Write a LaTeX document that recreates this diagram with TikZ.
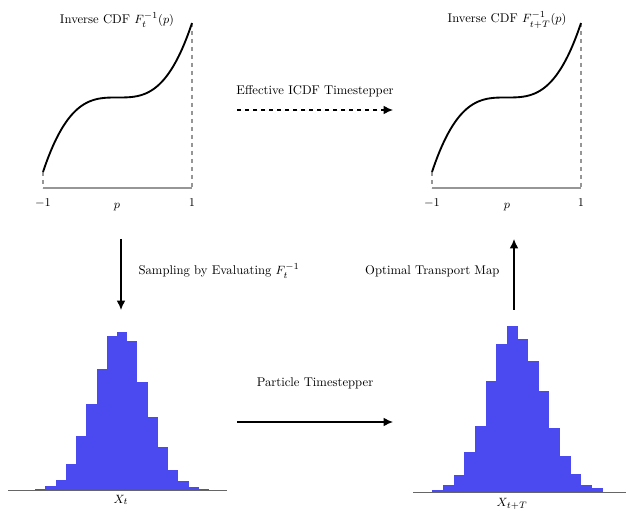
\documentclass[tikz,border=0pt]{standalone}
\usetikzlibrary{arrows.meta}
\definecolor{barblue}{RGB}{74,74,240}
\definecolor{axisgray}{RGB}{150,150,150}
\begin{document}
\begin{tikzpicture}[x=0.75pt,y=-0.75pt,
  txt/.style={font=\fontsize{9.5}{11}\selectfont, inner sep=1pt},
  curve/.style={line width=1.4pt, black},
  axisline/.style={draw=axisgray, line width=1.1pt},
  guide/.style={draw=axisgray, dashed, line width=0.8pt},
  flow/.style={line width=1pt, -{Latex[length=7pt,width=6.5pt]}},
  bar/.style={fill=barblue, draw=none},
  base/.style={draw=black!60, line width=0.6pt}]
\useasboundingbox (0,0) rectangle (634,523);

% ---- top-left inverse CDF ----
\draw[guide] (43,172) -- (43,188);
\draw[guide] (192,23) -- (192,188);
\draw[axisline] (43,188) -- (192,188);
\draw[curve] plot[domain=-1:1, samples=80, smooth] ({117.5+74.5*\x}, {97.5-74.5*\x*\x*\x});
\node[txt] (tl1) at (43,203) {$-1$};
\node[txt] (tlp) at (117,207) {$p$};
\node[txt] (tl2) at (192,203) {$1$};
\node[txt] (tltitle) at (117,20) {Inverse CDF $F_t^{-1}(p)$};

% ---- top-right inverse CDF ----
\draw[guide] (432,172) -- (432,188);
\draw[guide] (581,23) -- (581,188);
\draw[axisline] (432,188) -- (581,188);
\draw[curve] plot[domain=-1:1, samples=80, smooth] ({506.5+74.5*\x}, {97.5-74.5*\x*\x*\x});
\node[txt] (tr1) at (432,203) {$-1$};
\node[txt] (trp) at (507,207) {$p$};
\node[txt] (tr2) at (581,203) {$1$};
\node[txt] (trtitle) at (507,20) {Inverse CDF $F_{t+T}^{-1}(p)$};

% ---- bottom-left histogram ----
\foreach \h [count=\i from 0] in {0.3,1,4,10,25.7,54,86,121,154,158,149,108,73,42.7,19.7,8.7,3,1}{
  \fill[bar] ({25+10.22*\i},490) rectangle ({25+10.22*(\i+1)},{490-\h});
}
\draw[base] (8,490) -- (227,490);
\node[txt] (xt) at (121,500) {$X_t$};

% ---- bottom-right histogram ----
\foreach \h [count=\i from 0] in {1.7,7.3,17.3,40,66.3,111,148,166.3,153.3,131.3,101.3,64.3,36.3,18.3,7.3,4}{
  \fill[bar] ({432.3+10.65*\i},492) rectangle ({432.3+10.65*(\i+1)},{492-\h});
}
\draw[base] (413,492) -- (626,492);
\node[txt] (xtt) at (512,504) {$X_{t+T}$};

% ---- connectors ----
\coordinate (e1) at (237,110);
\coordinate (e2) at (393,110);
\draw[flow, dashed] (e1) -- (e2);
\node[txt] (elab) at (315,91) {Effective ICDF Timestepper};

\coordinate (s1) at (121,239);
\coordinate (s2) at (121,310);
\draw[flow] (s1) -- (s2);
\node[txt, anchor=west] (slab) at (137,271) {Sampling by Evaluating $F_t^{-1}$};

\coordinate (o1) at (514,310);
\coordinate (o2) at (514,239);
\draw[flow] (o1) -- (o2);
\node[txt, anchor=east] (olab) at (501,271) {Optimal Transport Map};

\coordinate (p1) at (237,422);
\coordinate (p2) at (393,422);
\draw[flow] (p1) -- (p2);
\node[txt] (plab) at (315,383) {Particle Timestepper};
\end{tikzpicture}
\end{document}
